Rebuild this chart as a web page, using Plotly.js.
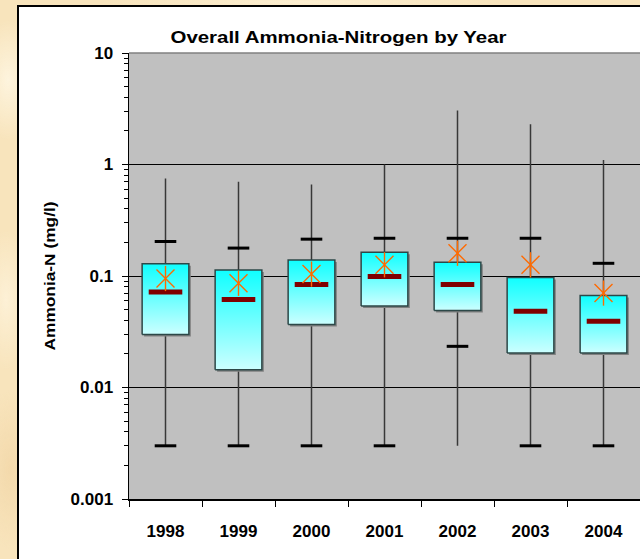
<!DOCTYPE html>
<html>
<head>
<meta charset="utf-8">
<script src="https://cdn.plot.ly/plotly-3.0.1.min.js"></script>
<style>
  html, body { margin: 0; padding: 0; width: 640px; height: 559px; overflow: hidden; }
  body {
    background-color: #F8E4BC;
    background-image:
      radial-gradient(ellipse 30px 60px at 8px 80px, rgba(255,248,230,0.8), rgba(255,248,230,0) 100%),
      radial-gradient(ellipse 25px 70px at 6px 300px, rgba(255,246,225,0.7), rgba(255,246,225,0) 100%),
      radial-gradient(ellipse 30px 80px at 10px 470px, rgba(240,210,160,0.6), rgba(240,210,160,0) 100%),
      radial-gradient(ellipse 200px 6px at 300px 2px, rgba(255,245,220,0.7), rgba(255,245,220,0) 100%);
  }
  #panel { position: absolute; left: 17px; top: 5px; width: 640px; height: 560px;
           background: #FFFFFF; border-left: 2px solid #000; border-top: 2px solid #000; }
  #chart { position: absolute; left: 0; top: 0; width: 640px; height: 559px; }
</style>
</head>
<body>
<div id="panel"></div>
<div id="chart"></div>
<script>
// ---- data (mg/l) ----
const years   = ['1998', '1999', '2000', '2001', '2002', '2003', '2004'];
const maxVal  = [0.75, 0.70, 0.66, 1.00, 3.05, 2.30, 1.10];
const upperCap= [0.204, 0.178, 0.214, 0.218, 0.218, 0.218, 0.130];
const q3      = [0.129, 0.113, 0.139, 0.163, 0.133, 0.097, 0.0667];
const median  = [0.072, 0.0617, 0.084, 0.099, 0.084, 0.0482, 0.0392];
const meanVal = [0.095, 0.086, 0.104, 0.126, 0.160, 0.126, 0.0703];
const q1      = [0.0298, 0.01445, 0.0367, 0.0537, 0.049, 0.0204, 0.0204];
const lowerCap= [0.003, 0.003, 0.003, 0.003, 0.0234, 0.003, 0.003];
const minVal  = [0.003, 0.003, 0.003, 0.003, 0.003, 0.003, 0.003];
const yTickVals = [0.001, 0.01, 0.1, 1, 10];
const yTickText = ['0.001', '0.01', '0.1', '1', '10'];

// ---- styles ----
const BOX_HALF = 0.32, MED_HALF = 0.23, CAP_HALF = 0.148;
const SHADOW_DX = 0.027, SHADOW_DY = 0.96;   // ~2px right / down
const FONT = 'Liberation Sans, Arial, sans-serif';

const traces = [];
const idx = years.map((_, i) => i);

// whiskers (min to max)
idx.forEach(i => {
  traces.push({ type: 'scatter', mode: 'lines', x: [i, i], y: [minVal[i], maxVal[i]],
    line: { color: '#383838', width: 1.5 }, hoverinfo: 'skip', showlegend: false });
});
// box shadows
idx.forEach(i => {
  const a = i - BOX_HALF + SHADOW_DX, b = i + BOX_HALF + SHADOW_DX;
  const lo = q1[i] * SHADOW_DY, hi = q3[i] * SHADOW_DY;
  traces.push({ type: 'scatter', mode: 'lines',
    x: [a, b, b, a, a], y: [lo, lo, hi, hi, lo], fill: 'toself', fillcolor: '#808080',
    line: { width: 0, color: 'rgba(0,0,0,0)' }, hoverinfo: 'skip', showlegend: false });
});
// boxes (q1 to q3) with vertical gradient
idx.forEach(i => {
  traces.push({ type: 'scatter', mode: 'lines',
    x: [i - BOX_HALF, i + BOX_HALF, i + BOX_HALF, i - BOX_HALF, i - BOX_HALF],
    y: [q1[i], q1[i], q3[i], q3[i], q1[i]],
    fill: 'toself',
    fillgradient: { type: 'vertical', colorscale: [[0, '#CCFFFF'], [1, '#10FFFF']] },
    line: { color: '#2c4848', width: 1.5 }, hoverinfo: 'skip', showlegend: false });
});
// caps
idx.forEach(i => {
  [upperCap[i], lowerCap[i]].forEach(v => {
    traces.push({ type: 'scatter', mode: 'lines', x: [i - CAP_HALF, i + CAP_HALF], y: [v, v],
      line: { color: '#000000', width: 3 }, hoverinfo: 'skip', showlegend: false });
  });
});
// medians
idx.forEach(i => {
  traces.push({ type: 'scatter', mode: 'lines', x: [i - MED_HALF, i + MED_HALF], y: [median[i], median[i]],
    line: { color: '#800000', width: 5 }, hoverinfo: 'skip', showlegend: false });
});
// means (asterisk = X + vertical bar)
['x-thin-open', 'line-ns-open'].forEach(sym => {
  traces.push({ type: 'scatter', mode: 'markers', x: idx, y: meanVal,
    marker: { symbol: sym, size: 18, color: '#FF6A00', line: { color: '#FF6A00', width: 1.4 } },
    hoverinfo: 'skip', showlegend: false });
});

// minor log ticks
const yMinor = [];
for (let e = -3; e < 1; e++) for (let m = 2; m <= 9; m++) yMinor.push(m * Math.pow(10, e));
const xBounds = idx.concat([years.length]).map(i => i - 0.5);

const layout = {
  width: 640, height: 559,
  paper_bgcolor: 'rgba(0,0,0,0)', plot_bgcolor: '#C0C0C0',
  margin: { l: 128.6, r: 0, t: 52.5, b: 59.7, pad: 0 },
  showlegend: false,
  font: { family: FONT, color: '#000000' },
  title: { text: 'Overall Ammonia-Nitrogen by Year', x: 338.5 / 640, xanchor: 'center',
           y: 1 - 37 / 559, yanchor: 'middle',
           font: { family: FONT, size: 16.5, weight: 'bold', color: '#000' } },
  xaxis: {
    type: 'linear', range: [-0.5, years.length - 0.5],
    tickmode: 'array', tickvals: idx, ticktext: years, ticks: '',
    tickfont: { family: FONT, size: 17, weight: 'bold' }, ticklabelstandoff: 16,
    showgrid: false, zeroline: false, showline: true, linecolor: '#000', linewidth: 1.5,
    minor: { tickmode: 'array', tickvals: xBounds, ticks: 'outside', ticklen: 6, tickwidth: 1, tickcolor: '#000', showgrid: false },
    fixedrange: true
  },
  yaxis: {
    type: 'log', range: [-3, 1],
    tickmode: 'array', tickvals: yTickVals, ticktext: yTickText,
    ticks: 'outside', ticklen: 6, tickwidth: 1, tickcolor: '#000',
    tickfont: { family: FONT, size: 17, weight: 'bold' }, ticklabelstandoff: 5,
    showgrid: true, gridcolor: '#000000', gridwidth: 1,
    zeroline: false, showline: true, linecolor: '#000', linewidth: 1.5,
    minor: { tickmode: 'array', tickvals: yMinor, ticks: 'outside', ticklen: 4, tickwidth: 1, tickcolor: '#000', showgrid: false },
    title: { text: 'Ammonia-N (mg/l)', standoff: 11, font: { family: FONT, size: 15.5, weight: 'bold' } },
    fixedrange: true
  },
  shapes: [
    { type: 'line', xref: 'paper', yref: 'paper', x0: 0, x1: 1, y0: 1, y1: 1,
      line: { color: '#808080', width: 1.5 } }
  ]
};

Plotly.newPlot('chart', traces, layout, { staticPlot: true, displayModeBar: false }).then(gd => {
  // the reference text is slightly stretched horizontally
  const t = gd.querySelector('.gtitle');
  if (t) { t.setAttribute('textLength', '336'); t.setAttribute('lengthAdjust', 'spacingAndGlyphs'); }
  const yt = gd.querySelector('.ytitle');
  if (yt) { yt.setAttribute('textLength', '149'); yt.setAttribute('lengthAdjust', 'spacingAndGlyphs'); }
});
</script>
</body>
</html>
